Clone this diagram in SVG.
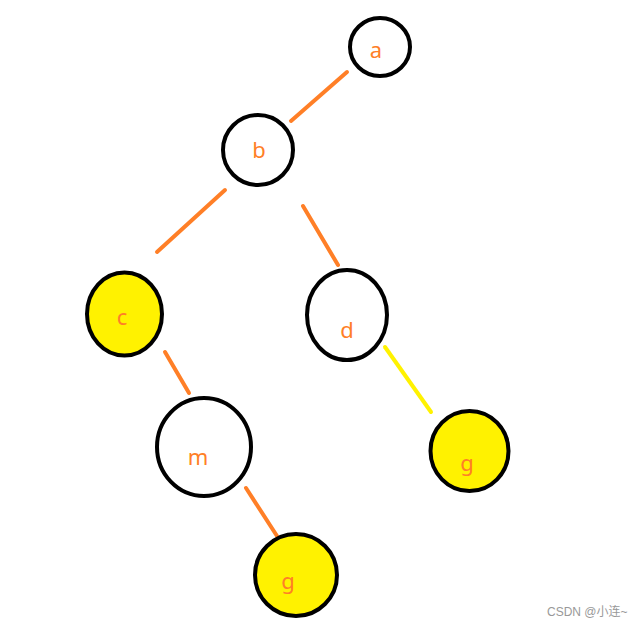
<svg xmlns="http://www.w3.org/2000/svg" width="644" height="628" viewBox="0 0 644 628">
<style>
.n{fill:#fff;stroke:#000;stroke-width:4}
.y{fill:#fff200;stroke:#000;stroke-width:4}
.t{font-family:"Noto Sans","Open Sans",sans-serif;font-size:22px;fill:#ff7f27;text-anchor:middle}
.e{stroke:#ff7f27;stroke-width:4;stroke-linecap:round}
.ey{stroke:#fff200;stroke-width:4;stroke-linecap:round}
.w{font-family:"Liberation Sans","Noto Sans CJK SC",sans-serif;font-size:12px;fill:#999}
</style>
<rect width="644" height="628" fill="#fff"/>
<g id="edges">
<line class="e" x1="347" y1="72" x2="291" y2="121"/>
<line class="e" x1="225" y1="190" x2="157" y2="252"/>
<line class="e" x1="303" y1="206" x2="338" y2="265"/>
<line class="e" x1="165" y1="352" x2="189" y2="393"/>
<line class="ey" x1="385" y1="347" x2="431" y2="412"/>
<line class="e" x1="246" y1="488" x2="277" y2="536"/>
</g>
<g id="node-a"><ellipse class="n" cx="380" cy="47" rx="30" ry="29"/><text class="t" x="376" y="58">a</text></g>
<g id="node-b"><ellipse class="n" cx="258" cy="150" rx="35" ry="35"/><text class="t" x="259" y="158">b</text></g>
<g id="node-c"><ellipse class="y" cx="124.5" cy="314" rx="37.5" ry="41.5"/><text class="t" x="122" y="325">c</text></g>
<g id="node-d"><ellipse class="n" cx="347" cy="315" rx="40" ry="45"/><text class="t" x="347" y="338">d</text></g>
<g id="node-m"><ellipse class="n" cx="204" cy="447" rx="47" ry="49"/><text class="t" x="198" y="465">m</text></g>
<g id="node-g1"><ellipse class="y" cx="469.5" cy="451" rx="39" ry="40"/><text class="t" x="467" y="471">g</text></g>
<g id="node-g2"><ellipse class="y" cx="296" cy="575" rx="41" ry="41"/><text class="t" x="288" y="589">g</text></g>
<text class="w" x="547" y="616">CSDN @小连~</text>
</svg>
